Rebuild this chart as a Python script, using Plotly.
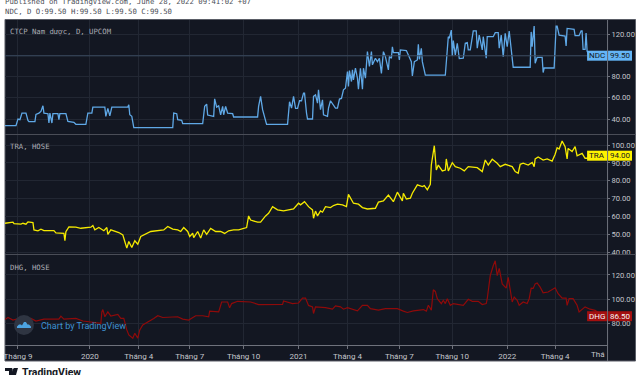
import plotly.graph_objects as go

W, H = 640, 375
FIG_H = 378
# sessions counted from the left edge of the chart
ndc_x = [0,11,13,15,17,21,23,24,30,31,34,36,38,39,43,44,45,47,48,53,54,55,61,63,69,71,81,83,87,88,100,101,103,105,107,123,124,125,127,129,168,169,172,173,177,178,198,200,202,203,209,210,212,214,216,218,219,221,223,228,229,253,254,256,258,260,262,283,285,287,289,291,293,295,297,299,300,302,303,308,309,311,313,314,316,318,319,323,324,326,329,331,333,335,337,339,341,343,344,345,347,348,349,351,353,354,356,358,359,361,363,365,367,368,371,373,375,377,379,381,384,385,387,388,389,394,395,396,402,405,407,408,410,413,414,415,417,418,421,441,443,444,445,447,448,449,451,453,455,459,461,463,464,466,469,472,473,475,478,479,482,483,489,491,494,495,497,499,501,503,505,507,508,509,526,527,528,530,531,533,538,539,540,550,552,553,555,561,562,563,570,571,575,577,578,579,581,582,583,585,590]
ndc_y = [33.75,33.75,40,39.4,45.6,45.6,38.75,37.5,37.5,44.4,45.6,47.2,52.5,45.6,45,36.25,45.6,36.25,45,45,39.4,45,45,37.8,36.9,35,35,45.6,45.6,51.25,51.25,42.5,50,43,51.25,51.25,53.4,44,42.5,31.9,31.9,45.6,45,39.4,38.75,35.6,35.6,51.9,54,43.75,42.5,59,51.25,52.5,44,51.9,44,51.9,45.6,45,41.9,41.9,51.9,61.25,48.75,41,35,35,56.25,50.3,61.25,50,50,57.2,57.2,64.4,64.4,45.6,40,40,61.25,62.8,55,67.5,48.75,58,44,42.5,50.3,57.2,53.4,50.3,50.3,58.75,59.4,67.5,69,84.7,70.6,85.6,75.3,86.25,76.9,87.8,78.4,68,87.8,68,87.8,78.4,103.4,89.4,103.4,91,97.2,94,97.2,83,103.4,98.75,86.25,98.75,97.2,108,102.5,102.5,95.6,105,104.4,97.2,94,80.6,94,95.6,110.3,96.25,106.6,94,81.25,81.25,103.4,117.5,116,123.75,99.4,113.75,100.3,111.25,96.9,97.2,111.25,111.9,105,105,123,123,106.6,119,105,117.5,97.2,117.5,117.5,121.25,121.25,106.6,119,98.75,120.6,108,122.8,106.6,97.2,88.75,88.75,122,108,127.5,92.5,98,98,83.75,88,88,127.5,127.5,119,118,108.75,125.3,124.4,118.4,118.4,123,123,105.6,105.6,121,104,99.5,99.5]

tra_x = [0,8,9,16,18,21,23,28,29,33,36,39,49,51,59,60,61,64,71,76,86,88,90,94,99,102,103,106,114,118,120,122,124,127,130,133,136,143,146,159,163,168,173,176,179,183,185,188,189,193,196,199,202,206,211,216,220,224,229,234,238,242,244,246,253,256,261,264,268,273,279,289,294,296,300,304,308,309,311,313,316,318,321,326,329,333,338,342,344,347,349,354,358,363,371,374,379,384,389,393,398,399,402,406,408,413,418,420,423,426,427,430,432,434,438,441,442,444,448,451,456,460,464,473,478,481,484,488,493,496,501,508,511,514,516,519,524,528,530,531,534,539,543,548,551,553,555,558,561,563,564,568,571,573,578,581,584,590]
tra_y = [56.2,56.8,56,55.7,56.2,55.7,57,56.6,52.5,52,52.9,52.1,52.1,50.8,50.6,46.4,51.5,54.2,54,53.4,54,54.9,52.5,53.8,52,53.8,50,52.5,51,49.7,46,42.3,46,42.6,46.4,44.5,48.8,50.6,51.6,52.5,54.4,52.9,52.5,51.6,53.8,51.6,48.8,50.6,48.2,51.6,47.9,52.5,50,53.3,51.6,51.6,50.5,52,52.5,52.5,53,53.8,60.3,58,56.8,56.8,60.3,61.8,65.5,63.7,63.1,64.2,67.4,66.5,68.3,65.5,63.7,59,63,60.3,63.1,62.4,65.5,65,66.1,66.9,66.5,65.5,72.4,69.3,67.4,66.9,65,64.2,64.6,68,68.7,72,68.3,73.6,68.7,73,69.8,70.2,73,77.7,76.7,77.3,74.9,78,88.8,99.6,86,88.8,85.5,86,92.2,85.5,90.1,87.9,87,85.5,87.9,87.3,85.1,91.6,88.8,92,89.8,87.9,89.2,87.9,85.1,84.2,89.2,89.8,88.8,90.3,87.9,92.2,93.3,91.6,92.2,91,94.8,98.5,97.8,102.2,99.1,92.2,98.1,96.3,99.1,94,95.3,92.6,92.6,94]

dhg_x = [0,3,8,14,21,26,31,39,54,56,59,71,78,84,91,96,97,98,100,103,106,113,116,119,122,124,128,130,133,135,138,144,149,153,158,173,178,184,191,198,204,205,214,217,223,225,227,233,246,254,266,278,279,288,294,298,301,304,308,309,311,316,321,328,331,336,339,343,353,358,363,366,374,381,393,399,403,409,419,422,424,427,429,431,433,437,439,441,443,446,449,459,464,468,474,478,482,483,486,489,491,493,495,498,502,504,507,508,510,513,515,519,523,525,527,529,531,533,536,539,544,548,551,554,558,562,563,565,569,573,575,581,586,591,599]
dhg_y = [83.5,85.1,83,84.3,83.8,84.3,82.2,83.8,83.8,86.2,83.8,84.3,82.2,81.6,80.8,80.3,89.7,91.6,85.7,89.7,86.2,87.6,84.3,84.3,74.9,70.8,68.1,72.2,68.1,74.9,78.9,81.6,84.3,86.5,85.1,85.7,83.8,83,86.5,86.5,85.7,90.3,89.7,97.8,97.8,93,96.5,98.4,97.8,95.7,95.7,95.9,98.6,96.5,97,101,101,95,93.8,88.4,93.8,93.8,93.2,91.9,94.6,93.8,91.9,93.2,90.5,95.1,95.1,92.4,91.1,92.4,92.4,90.3,89.2,90.5,91.6,90.3,95.1,91.1,107.8,106.5,100.5,96.5,99.2,96.5,100.5,95.1,96.5,95.1,100,98.4,98.4,95.7,96.5,100.5,119.5,127.6,131.6,119.5,125.4,112.7,109.2,118.1,103.2,97.8,101.9,99.2,95.1,97.8,96.5,100.5,109.2,109,112.7,113.5,110,105.4,106,108.1,109.5,104.6,101,101,95.1,100.5,100.5,95.1,89.7,93.8,91.9,91,86.5]

x_tick_vals = [13,85,134,185,239,294,343,395,448,503,551]
x_tick_text = ["Tháng 9","2020","Tháng 4","Tháng 7","Tháng 10","2021","Tháng 4","Tháng 7","Tháng 10","2022","Tháng 4"]
ndc_ticks = [40,60,80,100,120]
tra_ticks = [40,50,60,70,80,90,100]
dhg_ticks = [80,100,120]
ndc_range = [25.9,133.2]
tra_range = [39,105.6]
dhg_range = [62.5,136.4]
ndc_last, tra_last, dhg_last = 99.5, 94.0, 86.5

BG, GRID, EDGE, AXT = "#131722", "#222733", "#4a4d57", "#c4c6cc"
NDC_C, TRA_C, DHG_C = "#5fa8e6", "#f5ea00", "#8f0a0a"
MONO = "DejaVu Sans Mono"
SANS = "Roboto"

def px(x): return x / W
def py(y): return 1 - y / H

fig = go.Figure()
panels = [
    ("", ndc_x, ndc_y, NDC_C, ndc_range, ndc_ticks, 20, 134, 1.3),
    ("2", tra_x, tra_y, TRA_C, tra_range, tra_ticks, 135, 254, 1.3),
    ("3", dhg_x, dhg_y, DHG_C, dhg_range, dhg_ticks, 255, 345, 1.2),
]
layout = {}
for s, xs, ys, c, rng, ticks, top, bot, lw in panels:
    fig.add_trace(go.Scatter(x=xs, y=ys, mode="lines", xaxis="x"+s, yaxis="y"+s,
                             line=dict(color=c, width=lw), showlegend=False, hoverinfo="skip"))
    is_bottom = s == "3"
    layout["xaxis"+s] = dict(domain=[px(4), px(607)], range=[0,603], anchor="y"+s,
        tickvals=x_tick_vals, ticktext=x_tick_text if is_bottom else [""]*len(x_tick_vals),
        showticklabels=is_bottom, showgrid=True, gridcolor=GRID, gridwidth=1, zeroline=False,
        showline=is_bottom, linecolor="#6f727c", linewidth=1,
        ticks="outside" if is_bottom else "", ticklen=3, tickcolor="#6f727c",
        tickfont=dict(family=SANS, size=8, color=AXT), tickangle=0)
    layout["yaxis"+s] = dict(domain=[py(bot), py(top)], range=rng, anchor="x"+s, side="right",
        tickvals=ticks, ticktext=[f"{t:.2f}" if not (s=="" and t==100) else "" for t in ticks],
        showgrid=True, gridcolor=GRID, gridwidth=1, zeroline=False, showline=False,
        ticks="outside", ticklen=2, tickcolor="#6f727c",
        tickfont=dict(family=SANS, size=7.6, color=AXT))

shapes = [
    dict(type="rect", xref="paper", yref="paper", x0=px(4), x1=px(635.5), y0=py(361), y1=py(19.5),
         fillcolor=BG, line=dict(color="#5a5d66", width=1), layer="below"),
    dict(type="line", xref="paper", yref="paper", x0=px(4), x1=px(635.5), y0=py(134.5), y1=py(134.5), line=dict(color=EDGE, width=1)),
    dict(type="line", xref="paper", yref="paper", x0=px(4), x1=px(635.5), y0=py(254.5), y1=py(254.5), line=dict(color=EDGE, width=1)),
    dict(type="line", xref="paper", yref="paper", x0=px(607.5), x1=px(607.5), y0=py(20), y1=py(361), line=dict(color="#6f727c", width=1)),
    dict(type="line", xref="x", yref="y", x0=0, x1=603, y0=ndc_last, y1=ndc_last, line=dict(color="#3a4a60", width=1)),
]
annos = []
def text(x, y, t, size, color, family=MONO, anchor="left", **kw):
    annos.append(dict(x=px(x), y=py(y), xref="paper", yref="paper", text=t, showarrow=False,
                      xanchor=anchor, yanchor="middle", xshift=0,
                      font=dict(family=family, size=size, color=color), **kw))

def price_tag(name, value, y, fill, fg):
    shapes.append(dict(type="rect", xref="paper", yref="paper", x0=px(587), x1=px(607), y0=py(y+5), y1=py(y-5), fillcolor=fill, line=dict(width=0)))
    shapes.append(dict(type="rect", xref="paper", yref="paper", x0=px(608), x1=px(632), y0=py(y+5), y1=py(y-5), fillcolor=fill, line=dict(width=0)))
    text(597, y, name, 8, fg, SANS, "center")
    text(620, y, f"{value:.2f}", 8, fg, SANS, "center")

price_tag("NDC", ndc_last, 55.7, "#64b5f6", "#131722")
price_tag("TRA", tra_last, 155.7, "#fff200", "#131722")
price_tag("DHG", dhg_last, 316.2, "#a30f0f", "#f5f5f5")

text(2, 1.5, "Published on TradingView.com, June 28, 2022 09:41:02 +07", 7.3, "#4c4f57")
text(2, 11.5, "NDC, D O:99.50 H:99.50 L:99.50 C:99.50", 7.3, "#4c4f57")
text(7.5, 31, "CTCP Nam dược, D, UPCOM", 7.3, "#a9abb3")
text(7.5, 146, "TRA, HOSE", 7.3, "#a9abb3")
text(7.5, 267, "DHG, HOSE", 7.3, "#a9abb3")
text(607, 354, "Thá", 8, AXT, SANS, "right")
text(38, 326, "Chart by TradingView", 9, "#3f93d2", SANS)
text(19, 372, "<b>TradingView</b>", 10.5, "#131722", SANS)

# watermark badge and cloud
shapes.append(dict(type="circle", xref="paper", yref="paper", x0=px(13), x1=px(33), y0=py(335), y1=py(315), fillcolor="#2f3542", line=dict(width=0)))
def path(pts):
    return "M " + " L ".join(f"{px(a):.5f},{py(b):.5f}" for a, b in pts) + " Z"
shapes.append(dict(type="path", xref="paper", yref="paper", path=path([(16,328),(16,326.5),(18,324.5),(20,324.5),(21,325.5),(23,322),(25,322),(26.5,324.5),(28,324.5),(30,326.5),(30,328)]), fillcolor="#4da3e0", line=dict(width=0)))
# footer logo
for pts in ([(4,368),(11,368),(11,375),(8,375),(8,371),(4,371)], [(11.5,368.5),(14,368.5),(13,375),(10.5,375)], [(13,368),(17,368),(15,375),(13,375)]):
    shapes.append(dict(type="path", xref="paper", yref="paper", path=path(pts), fillcolor="#131722", line=dict(width=0)))

fig.update_layout(width=W, height=FIG_H, margin=dict(l=0, r=0, t=0, b=0), autosize=False,
                  paper_bgcolor="white", plot_bgcolor="rgba(0,0,0,0)", showlegend=False,
                  shapes=shapes, annotations=annos, **layout)
fig.write_html("out.html", config=dict(displayModeBar=False),
               post_script="document.body.style.margin='0';")
